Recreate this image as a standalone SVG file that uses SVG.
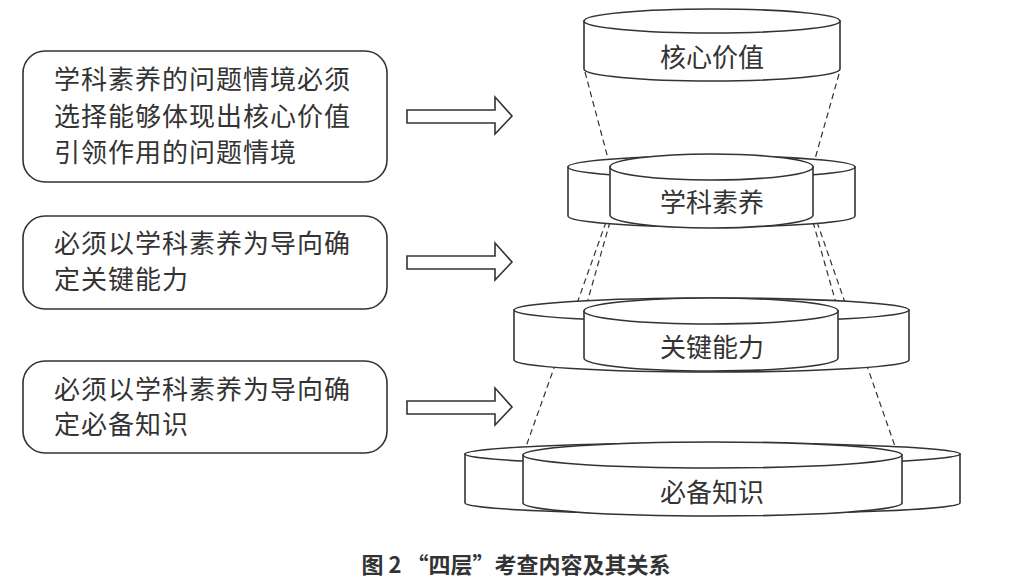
<svg xmlns="http://www.w3.org/2000/svg" width="1033" height="585" viewBox="0 0 1033 585">
<style>
.b{fill:#fff;stroke:#333;stroke-width:1.6}
.c{fill:#fff;stroke:#333;stroke-width:1.6}
.d{stroke:#333;stroke-width:1.2;stroke-dasharray:6 4;fill:none}
.t{font-family:"Noto Sans CJK SC",sans-serif;font-size:26px;fill:#333;letter-spacing:1px}
.n{font-family:"Noto Sans CJK SC",sans-serif;font-size:26px;fill:#333;text-anchor:middle}
.a{fill:#fff;stroke:#333;stroke-width:1.6}
</style>
<rect width="1033" height="585" fill="#fff"/>
<g id="box1"><rect class="b" x="23" y="51" width="364" height="131" rx="22"/>
<text class="t" x="54" y="89">学科素养的问题情境必须</text><text class="t" x="54" y="126">选择能够体现出核心价值</text><text class="t" x="54" y="162">引领作用的问题情境</text></g>
<g id="box2"><rect class="b" x="23" y="216" width="364" height="93" rx="22"/>
<text class="t" x="54" y="253">必须以学科素养为导向确</text><text class="t" x="54" y="289">定关键能力</text></g>
<g id="box3"><rect class="b" x="23" y="361" width="364" height="92" rx="22"/>
<text class="t" x="54" y="399">必须以学科素养为导向确</text><text class="t" x="54" y="434">定必备知识</text></g>
<g id="connectors">
<path class="a" d="M407,110 H495 V97 L512,116 L495,134 V123 H407 Z"/>
<path class="a" d="M407,256 H495 V243 L512,262 L495,280 V269 H407 Z"/>
<path class="a" d="M407,401 H495 V388 L512,407 L495,425 V414 H407 Z"/>
<line class="d" x1="585" y1="72" x2="610" y2="166"/>
<line class="d" x1="839" y1="74" x2="813" y2="166"/>
<line class="d" x1="610" y1="222" x2="585" y2="310"/>
<line class="d" x1="606" y1="222" x2="523" y2="455"/>
<line class="d" x1="813" y1="222" x2="838" y2="310"/>
<line class="d" x1="817" y1="222" x2="898" y2="455"/>
</g>
<g id="n1"><path class="c" d="M584,21 V69 A128,12 0 0 0 840,69 V21 Z"/><ellipse class="c" cx="712" cy="21" rx="128" ry="12"/><text class="n" x="712" y="67">核心价值</text></g>
<g id="n2"><path class="c" d="M568,167 V216 A143.5,11 0 0 0 855,216 V167 Z"/><ellipse class="c" cx="711.5" cy="167" rx="143.5" ry="11"/>
<path class="c" d="M610,167 V215 A101.5,13 0 0 0 813,215 V167 Z"/><ellipse class="c" cx="711.5" cy="167" rx="101.5" ry="13"/><text class="n" x="712" y="212">学科素养</text></g>
<g id="n3"><path class="c" d="M514,310 V360 A197.5,12 0 0 0 909,360 V310 Z"/><ellipse class="c" cx="711.5" cy="310" rx="197.5" ry="12"/>
<path class="c" d="M584,311 V358 A127,13 0 0 0 838,358 V311 Z"/><ellipse class="c" cx="711" cy="311" rx="127" ry="13"/><text class="n" x="712" y="357">关键能力</text></g>
<g id="n4"><path class="c" d="M465,454 V503 A247.5,11 0 0 0 960,503 V454 Z"/><ellipse class="c" cx="712.5" cy="454" rx="247.5" ry="11"/>
<path class="c" d="M523,455 V503 A189.5,13 0 0 0 902,503 V455 Z"/><ellipse class="c" cx="712.5" cy="455" rx="189.5" ry="13"/><text class="n" x="712" y="502">必备知识</text></g>
<text x="516" y="573" style="font-family:'Noto Sans CJK SC',sans-serif;font-size:22px;font-weight:bold;fill:#333;text-anchor:middle">图 2  “四层”考查内容及其关系</text>
</svg>
